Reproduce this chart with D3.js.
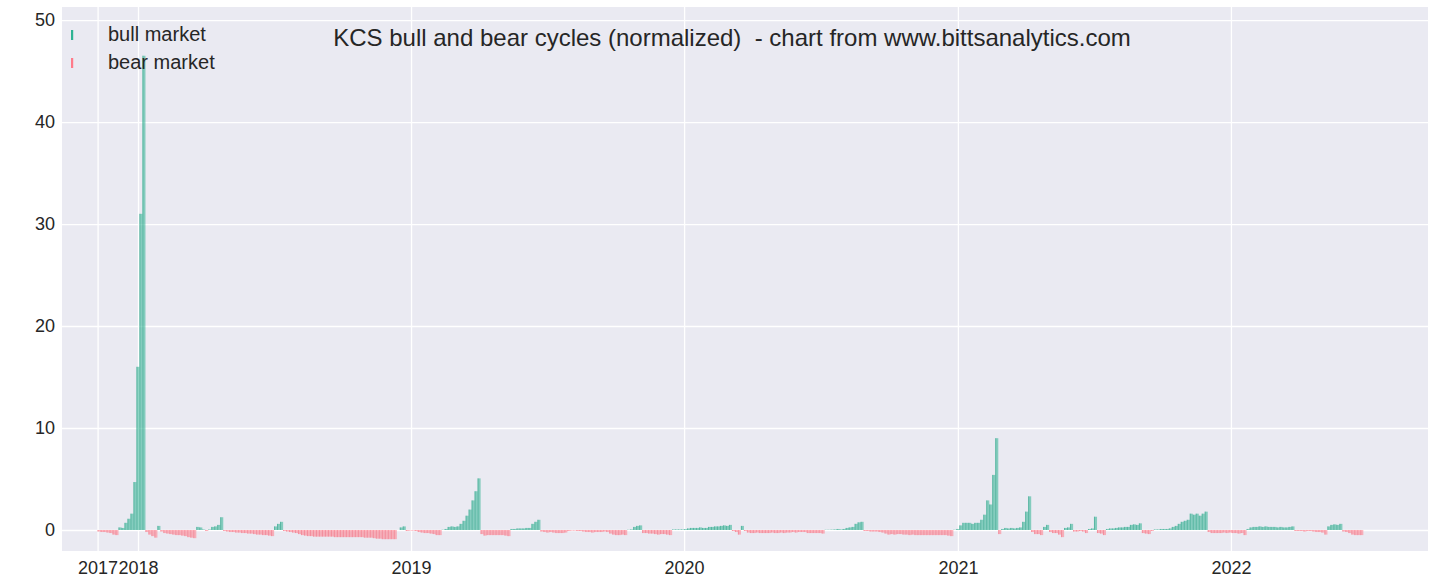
<!DOCTYPE html>
<html>
<head>
<meta charset="utf-8">
<script src="https://cdn.jsdelivr.net/npm/d3@7"></script>
<style>
  html, body { margin: 0; padding: 0; background: #ffffff; }
  svg { display: block; }
  text { font-family: "Liberation Sans", Arial, sans-serif; fill: #262626; }
</style>
</head>
<body>
<svg id="chart" width="1436" height="583"></svg>
<script>
// ---- data ----
const title = "KCS bull and bear cycles (normalized)  - chart from www.bittsanalytics.com";
const seriesNames = ["bull market", "bear market"];
const startDate = "2017-11-08";     // first bar
const stepDays = 4;                 // each bar covers 4 days
// normalized cycle value for each 4-day bar (positive = bull, negative = bear)
const cycleValues = [
  -0.15,-0.2,-0.2,-0.25,-0.3,-0.45,-0.5,
  0.25,0.2,
  0.7,1.1,1.6,4.7,16,31,46.5,
  -0.2,-0.45,-0.6,-0.75,
  0.4,
  -0.15,-0.3,-0.35,-0.4,-0.45,-0.5,-0.5,-0.55,-0.6,-0.7,-0.75,-0.8,
  0.3,0.25,
  0.05,-0.1,0.05,
  0.3,0.35,0.5,1.25,
  -0.1,-0.15,-0.2,-0.2,-0.25,-0.25,-0.3,-0.3,-0.35,-0.35,-0.4,-0.45,-0.45,-0.5,-0.5,-0.55,-0.6,
  0.35,0.6,0.8,
  -0.1,-0.15,-0.2,-0.25,
  -0.3,-0.4,-0.5,-0.55,
  -0.6,-0.6,-0.65,-0.65,-0.65,-0.65,-0.65,-0.65,-0.65,-0.7,-0.7,-0.7,-0.7,-0.7,-0.7,-0.7,-0.7,-0.7,-0.7,-0.75,-0.75,-0.75,
  -0.8,-0.85,-0.85,-0.9,-0.9,-0.9,-0.9,-0.9,
  0,
  0.25,0.35,
  -0.1,-0.05,-0.05,-0.1,-0.2,-0.25,-0.3,-0.3,-0.35,-0.4,-0.5,-0.5,
  0.02,
  0.1,0.3,0.35,0.3,0.35,0.6,0.9,1.4,2.0,2.9,3.8,5.06,
  -0.4,-0.55,-0.5,-0.5,-0.5,-0.5,-0.5,-0.5,-0.55,-0.6,
  0.1,0.1,0.15,0.15,0.15,0.2,0.2,
  0.6,0.8,1.0,
  -0.15,-0.2,-0.25,-0.2,-0.25,-0.3,-0.3,-0.3,-0.25,-0.1,-0.05,-0.05,-0.1,-0.1,-0.15,-0.2,-0.2,-0.25,-0.2,-0.2,-0.2,-0.15,-0.2,-0.35,-0.45,-0.5,-0.5,-0.45,-0.5,
  0.02,0.05,
  0.3,0.4,0.45,
  -0.3,-0.3,-0.35,-0.35,-0.4,-0.45,-0.4,-0.4,-0.45,-0.5,
  0.05,0.05,0.05,0.05,0.08,
  0.15,0.2,0.2,0.2,0.25,0.2,0.2,0.3,0.3,0.35,0.35,0.4,0.45,0.4,0.5,
  -0.1,-0.2,-0.45,0.4,-0.1,
  -0.25,-0.3,-0.3,-0.25,-0.3,-0.3,-0.3,-0.3,-0.25,-0.3,-0.3,-0.25,-0.3,-0.25,-0.25,-0.2,-0.25,-0.2,-0.2,-0.2,-0.3,-0.3,-0.3,-0.3,-0.3,-0.35,
  0.02,0.02,0.03,
  0.05,0.1,0.05,0.1,
  0.2,0.25,0.3,
  0.6,0.75,0.8,
  -0.1,
  -0.1,-0.15,-0.15,-0.15,-0.2,-0.25,
  -0.35,-0.45,-0.4,-0.45,-0.4,-0.4,-0.45,-0.45,-0.5,-0.45,-0.5,-0.5,-0.5,-0.5,-0.5,-0.5,-0.5,-0.5,-0.5,-0.5,-0.5,-0.55,-0.6,
  0.02,0.1,
  0.45,0.7,0.7,0.7,0.6,0.7,0.7,1.0,1.5,2.9,2.5,5.4,9.0,
  -0.4,
  0.1,0.2,0.15,0.2,0.15,0.2,0.25,
  0.8,1.8,3.3,
  -0.2,-0.4,-0.4,-0.5,
  0.3,0.5,
  -0.2,-0.3,-0.3,-0.45,-0.7,
  0.2,0.25,0.6,
  -0.15,-0.15,-0.1,-0.15,-0.3,
  0.1,0.15,1.3,
  -0.3,-0.35,-0.5,
  0.1,0.15,0.15,0.2,0.25,0.25,0.3,0.3,0.5,0.55,0.5,0.65,
  -0.3,-0.35,-0.4,-0.1,
  0.05,0.05,
  0.1,0.1,0.1,0.15,0.3,0.4,0.6,0.8,0.9,1.0,1.6,1.5,1.6,1.4,1.6,1.8,
  -0.2,-0.3,-0.3,-0.3,-0.3,-0.25,-0.3,-0.25,-0.3,-0.3,-0.35,-0.3,-0.5,
  0.1,0.25,0.3,0.3,0.35,0.3,0.35,0.3,0.3,0.3,0.25,0.3,0.25,0.25,0.3,0.35,
  -0.1,-0.1,-0.1,-0.15,-0.1,-0.1,-0.15,-0.2,-0.2,-0.25,-0.45,
  0.35,0.5,0.55,0.5,0.6,
  -0.15,-0.2,-0.3,-0.45,-0.5,-0.5,-0.5
];
const xTickDates = ["2017-11-08","2018-01-01","2019-01-01","2020-01-01","2021-01-01","2022-01-01"];
const xTickLabels = ["2017","2018","2019","2020","2021","2022"];
const yTicks = [0, 10, 20, 30, 40, 50];
const xDomain = ["2017-09-21T10:00", "2022-09-21T10:00"];
const yDomain = [-2.06, 51.28];

// ---- layout ----
const W = 1436, H = 583;
const plot = { left: 62, right: 1428, top: 7, bottom: 551 };
const bullFill = "#2fb393", bullEdge = "#1f9d7f";
const bearFill = "#ff7b8a", bearEdge = "#f0677a";

const parse = d3.isoParse;
const svg = d3.select("#chart");

const x = d3.scaleTime()
  .domain(xDomain.map(parse))
  .range([plot.left, plot.right]);
const y = d3.scaleLinear()
  .domain(yDomain)
  .range([plot.bottom, plot.top]);

// background
svg.append("rect")
  .attr("x", plot.left).attr("y", plot.top)
  .attr("width", plot.right - plot.left).attr("height", plot.bottom - plot.top)
  .attr("fill", "#eaeaf2");

// grid via axes
const tickDates = xTickDates.map(parse);
const xGrid = d3.axisBottom(x).tickValues(tickDates)
  .tickSize(-(plot.bottom - plot.top)).tickFormat("");
svg.append("g").attr("transform", `translate(0,${plot.bottom})`).call(xGrid)
  .call(g => g.select(".domain").remove())
  .call(g => g.selectAll("line").attr("stroke", "#ffffff").attr("stroke-width", 1.3));

const yGrid = d3.axisLeft(y).tickValues(yTicks)
  .tickSize(-(plot.right - plot.left)).tickFormat("");
svg.append("g").attr("transform", `translate(${plot.left},0)`).call(yGrid)
  .call(g => g.select(".domain").remove())
  .call(g => g.selectAll("line").attr("stroke", "#ffffff").attr("stroke-width", 1.3));

// bars
const start = parse(startDate);
const bars = cycleValues.map((v, i) => ({
  t0: d3.timeDay.offset(start, i * stepDays),
  t1: d3.timeDay.offset(start, (i + 1) * stepDays),
  v
})).filter(d => d.v !== 0);

const gBars = svg.append("g");
gBars.selectAll("rect.bar").data(bars).join("rect")
  .attr("class", "bar")
  .attr("x", d => x(d.t0))
  .attr("width", d => Math.max(0.5, x(d.t1) - x(d.t0)))
  .attr("y", d => Math.min(y(d.v), y(0)))
  .attr("height", d => Math.abs(y(d.v) - y(0)))
  .attr("fill", d => d.v > 0 ? bullFill : bearFill)
  .attr("fill-opacity", 0.55);
gBars.selectAll("line.edge").data(bars).join("line")
  .attr("class", "edge")
  .attr("x1", d => x(d.t0) + 0.4).attr("x2", d => x(d.t0) + 0.4)
  .attr("y1", d => y(d.v)).attr("y2", y(0))
  .attr("stroke", d => d.v > 0 ? bullEdge : bearEdge)
  .attr("stroke-opacity", 0.6)
  .attr("stroke-width", 0.8);

// tick labels via axes
const xAxis = d3.axisBottom(x).tickValues(tickDates)
  .tickFormat((d, i) => xTickLabels[i]).tickSize(0).tickPadding(10);
svg.append("g").attr("transform", `translate(0,${plot.bottom})`).call(xAxis)
  .call(g => g.select(".domain").remove())
  .call(g => g.selectAll("text").attr("font-size", 18)
    .attr("font-family", '"Liberation Sans", Arial, sans-serif').attr("fill", "#262626"));

const yAxis = d3.axisLeft(y).tickValues(yTicks).tickSize(0).tickPadding(7);
svg.append("g").attr("transform", `translate(${plot.left},0)`).call(yAxis)
  .call(g => g.select(".domain").remove())
  .call(g => g.selectAll("text").attr("font-size", 18)
    .attr("font-family", '"Liberation Sans", Arial, sans-serif').attr("fill", "#262626"));

// title
svg.append("text")
  .attr("x", 732).attr("y", 46)
  .attr("text-anchor", "middle")
  .attr("font-size", 24)
  .style("white-space", "pre")
  .text(title);

// legend
const legend = svg.append("g");
const legColors = [bullFill, bearFill];
seriesNames.forEach((name, i) => {
  legend.append("rect")
    .attr("x", 71).attr("y", 30 + i * 28)
    .attr("width", 2.2).attr("height", 10)
    .attr("fill", legColors[i]);
  legend.append("text")
    .attr("x", 108).attr("y", 41 + i * 28)
    .attr("font-size", 20)
    .text(name);
});
</script>
</body>
</html>
